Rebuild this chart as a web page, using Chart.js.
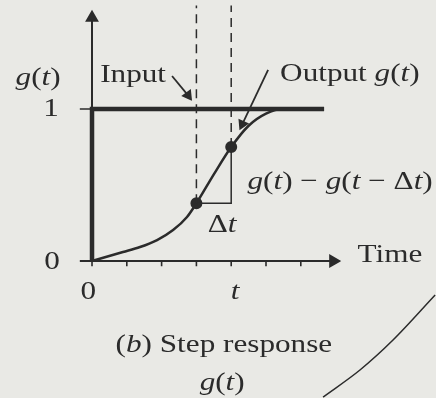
<!DOCTYPE html>
<html>
<head>
<meta charset="utf-8">
<script src="https://cdn.jsdelivr.net/npm/chart.js@4.4.0/dist/chart.umd.min.js"></script>
<style>
  html, body { margin: 0; padding: 0; background: #e9e9e5; }
  .wrap { width: 436px; height: 398px; position: relative; }
</style>
</head>
<body>
<div class="wrap"><canvas id="stepChart"></canvas></div>
<script>
// time axis ticks (unit = one tick spacing), t sits on tick 4
const tickTimes = [0, 1, 2, 3, 4, 5, 6];

// input: unit step
const inputT = [0, 0, 6.67];
const inputG = [0, 1, 1];

// output g(t)
const outputT = [0, 0.89, 1.38, 1.87, 2.33, 2.73, 3, 3.5, 4, 4.5, 5, 5.5, 6];
const outputG = [0, 0.059, 0.092, 0.138, 0.204, 0.29, 0.38, 0.57, 0.75, 0.89, 0.97, 1.0, 1.0];

// the two marked instants t - Δt and t
const markT = [3, 4];
const markG = [0.38, 0.75];

// stray curve of the next figure (bottom right)
const strayT = [9.86, 8.65, 7.70, 6.64];
const strayG = [-0.224, -0.52, -0.717, -0.895];

const ink = '#2b2b2b';
const serif = '"Liberation Serif", "Times New Roman", Times, serif';
const pts = (xs, ys) => xs.map((x, i) => ({ x: x, y: ys[i] }));

// small tick marks below the time axis
const tickSegs = [];
tickTimes.forEach(t => {
  tickSegs.push({ x: t, y: 0 }, { x: t, y: -0.035 }, { x: t, y: null });
});
tickSegs.push({ x: -0.35, y: 1 }, { x: 0, y: 1 });

// text labels, *...* = italic
const labels = [
  { text: '*g*(*t*)', x: -1.55, y: 1.20 },
  { text: 'Input', x: 1.18, y: 1.22 },
  { text: 'Output *g*(*t*)', x: 7.41, y: 1.23 },
  { text: '1', x: -1.18, y: 1.0 },
  { text: '0', x: -1.15, y: -0.007 },
  { text: '0', x: -0.11, y: -0.204 },
  { text: '*t*', x: 4.11, y: -0.204 },
  { text: 'Time', x: 8.56, y: 0.04 },
  { text: 'Δ*t*', x: 3.74, y: 0.237 },
  { text: '*g*(*t*) − *g*(*t* − Δ*t*)', x: 7.13, y: 0.52 },
  { text: '(*b*) Step response', x: 3.79, y: -0.553 },
  { text: '*g*(*t*)', x: 3.74, y: -0.805 }
];

const textPlugin = {
  id: 'textLabels',
  afterDatasetsDraw(chart) {
    const ctx = chart.ctx;
    const sx = chart.scales.x, sy = chart.scales.y;
    labels.forEach(l => {
      const parts = l.text.split('*');
      ctx.save();
      ctx.translate(sx.getPixelForValue(l.x), sy.getPixelForValue(l.y));
      ctx.scale(1.2, 1);
      ctx.fillStyle = ink;
      ctx.textBaseline = 'middle';
      let total = 0;
      parts.forEach((p, i) => {
        ctx.font = (i % 2 ? 'italic ' : '') + '26px ' + serif;
        total += ctx.measureText(p).width;
      });
      let x = -total / 2;
      parts.forEach((p, i) => {
        ctx.font = (i % 2 ? 'italic ' : '') + '26px ' + serif;
        ctx.fillText(p, x, 0);
        x += ctx.measureText(p).width;
      });
      ctx.restore();
    });
  }
};

const line = (data, extra) => Object.assign({
  data: data,
  borderColor: ink,
  backgroundColor: ink,
  borderWidth: 2,
  pointRadius: 0,
  tension: 0,
  fill: false,
  clip: false,
  spanGaps: false
}, extra);

new Chart(document.getElementById('stepChart'), {
  type: 'line',
  data: {
    datasets: [
      // axes with arrow heads
      line([{ x: 0, y: 0 }, { x: 0, y: 1.6 }], {
        pointRadius: [0, 6], pointStyle: 'triangle', pointRotation: 0
      }),
      line([{ x: -0.35, y: 0 }, { x: 6.93, y: 0 }], {
        pointRadius: [0, 6], pointStyle: 'triangle', pointRotation: 90
      }),
      line(tickSegs, { borderWidth: 1.6 }),
      // dashed guides
      line([{ x: markT[0], y: markG[0] }, { x: markT[0], y: 1.68 }], { borderWidth: 1.5, borderDash: [9, 6] }),
      line([{ x: markT[1], y: markG[1] }, { x: markT[1], y: 1.68 }], { borderWidth: 1.5, borderDash: [9, 6] }),
      // Δt triangle
      line([{ x: markT[0], y: markG[0] }, { x: markT[1], y: markG[0] }, { x: markT[1], y: markG[1] }], { borderWidth: 1.5 }),
      // input step
      line(pts(inputT, inputG), { borderWidth: 4.5 }),
      // output response
      line(pts(outputT, outputG), { borderWidth: 2.5, cubicInterpolationMode: 'monotone' }),
      // marked points
      line(pts(markT, markG), { showLine: false, pointRadius: 5 }),
      // callout arrows
      line([{ x: 2.30, y: 1.217 }, { x: 2.76, y: 1.09 }], {
        borderWidth: 1.8, pointRadius: [0, 5], pointStyle: 'triangle', pointRotation: 144
      }),
      line([{ x: 5.06, y: 1.257 }, { x: 4.32, y: 0.90 }], {
        borderWidth: 1.8, pointRadius: [0, 5], pointStyle: 'triangle', pointRotation: 205
      }),
      // edge of the next figure
      line(pts(strayT, strayG), { borderWidth: 1.5, cubicInterpolationMode: 'monotone' })
    ]
  },
  options: {
    responsive: true,
    maintainAspectRatio: false,
    animation: false,
    layout: { padding: 0, autoPadding: false },
    scales: {
      x: { type: 'linear', min: -2.644, max: 9.885, display: false },
      y: { type: 'linear', min: -0.901, max: 1.717, display: false }
    },
    plugins: {
      legend: { display: false },
      tooltip: { enabled: false }
    }
  },
  plugins: [textPlugin]
});
</script>
</body>
</html>
